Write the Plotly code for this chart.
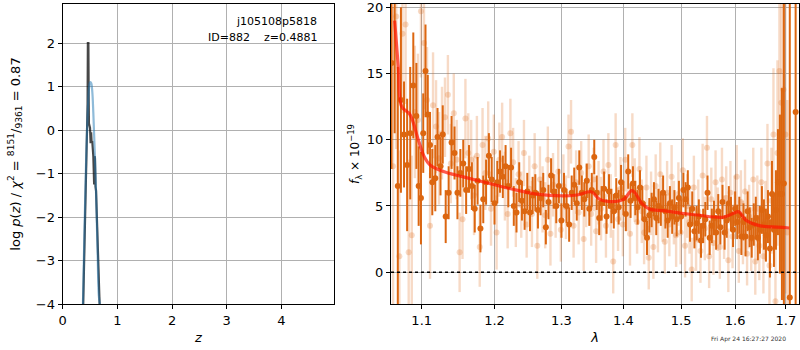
import math
import plotly.graph_objects as go

# ---------------- left panel: p(z) ----------------
pz_z = [0.375, 0.40, 0.43, 0.455, 0.46, 0.47, 0.475, 0.48, 0.50, 0.51, 0.52, 0.53, 0.54,
        0.56, 0.575, 0.585, 0.59, 0.60, 0.61, 0.625, 0.645, 0.66, 0.675]
pz_logp = [-4.0, -2.6, -0.8, 0.6, 2.0, 2.0, 0.8, 0.15, 0.05, -0.3, -0.05, -0.3, -0.25,
           -0.6, -1.25, -0.6, -0.65, -1.3, -1.4, -2.0, -2.8, -3.4, -4.0]
prior_z = [0.37, 0.40, 0.43, 0.46, 0.48, 0.50, 0.52, 0.54, 0.56, 0.58, 0.60, 0.62, 0.64, 0.66, 0.68]
prior_logp = [-4.0, -2.2, -0.6, 0.5, 0.95, 1.1, 1.08, 0.9, 0.4, -0.3, -1.0, -1.9, -2.9, -3.8, -4.0]

# ---------------- right panel: spectrum ----------------
dark_wave = [1.061, 1.065, 1.069, 1.073, 1.077, 1.081, 1.085, 1.089, 1.093, 1.096, 1.099,
             1.102, 1.105, 1.108, 1.111, 1.114, 1.118, 1.121, 1.125, 1.128, 1.132, 1.136,
             1.140, 1.144, 1.148, 1.152, 1.156, 1.160, 1.164, 1.168, 1.172, 1.176, 1.180,
             1.184, 1.188, 1.192, 1.196, 1.200, 1.204, 1.208, 1.212, 1.216, 1.220, 1.224,
             1.228, 1.232, 1.236, 1.240, 1.244, 1.248, 1.252, 1.256, 1.260, 1.264, 1.268,
             1.272, 1.276, 1.280, 1.284, 1.288, 1.292, 1.296, 1.300, 1.304, 1.308, 1.312,
             1.316, 1.320, 1.324, 1.328, 1.332, 1.336, 1.340, 1.344, 1.348, 1.352, 1.356,
             1.360, 1.364, 1.368, 1.372, 1.376, 1.380, 1.384, 1.388, 1.392, 1.396, 1.400,
             1.404, 1.408, 1.412, 1.416, 1.420, 1.424, 1.428, 1.432, 1.436, 1.440, 1.444,
             1.448, 1.452, 1.456, 1.460, 1.464, 1.468, 1.472, 1.476, 1.480, 1.484, 1.488,
             1.492, 1.496, 1.500, 1.504, 1.508, 1.512, 1.516, 1.520, 1.524, 1.528, 1.532,
             1.536, 1.540, 1.544, 1.548, 1.552, 1.556, 1.560, 1.564, 1.568, 1.572, 1.576,
             1.580, 1.584, 1.588, 1.592, 1.596, 1.600, 1.604, 1.608, 1.612, 1.616, 1.620,
             1.624, 1.628, 1.632, 1.636, 1.640, 1.644, 1.648, 1.652, 1.656, 1.660, 1.664,
             1.668, 1.672, 1.676, 1.680, 1.684, 1.688, 1.692, 1.696, 1.708, 1.720]
dark_flux = [15.8, 20.5, 6.5, 13.0, 10.4, 8.1, 10.5, 14.1, 11.8, 6.5, 5.6,
             10.5, 15.2, 11.9, 9.6, 6.8, 7.1, 10.2, 8.0, 10.4, 4.2, 6.0,
             9.8, 9.0, 6.0, 7.5, 8.2, 6.2, 7.8, 6.5, 4.8, 6.9, 3.3,
             5.5, 6.8, 8.8, 7.0, 5.2, 6.8, 7.6, 7.2, 8.0, 6.5, 7.9,
             5.0, 4.5, 6.8, 5.4, 4.6, 6.1, 4.5, 5.8, 6.0, 4.7, 5.6,
             6.2, 3.4, 5.3, 7.3, 6.1, 5.0, 6.5, 3.9, 6.2, 5.0, 3.6,
             6.0, 6.6, 5.2, 7.9, 6.0, 5.5, 6.9, 4.8, 6.2, 8.7, 6.0,
             4.1, 5.2, 6.3, 4.2, 6.1, 5.0, 4.6, 5.8, 4.9, 6.8, 5.6,
             4.4, 7.6, 5.4, 6.7, 5.6, 4.9, 6.4, 5.2, 4.0, 2.6, 4.3,
             4.7, 5.5, 4.1, 5.0, 4.8, 6.0, 4.6, 3.9, 5.2, 4.2, 4.9,
             4.0, 5.6, 4.2, 6.2, 5.5, 6.4, 3.6, 4.8, 3.1, 3.7, 4.2,
             2.4, 3.5, 4.0, 6.0, 2.6, 3.5, 4.1, 3.0, 4.6, 3.4, 5.3,
             3.0, 3.9, 5.2, 4.4, 3.2, 4.8, 3.8, 4.3, 2.7, 3.8, 2.7,
             4.6, 3.4, 2.6, 3.6, 4.1, 2.6, 3.2, 4.7, 3.6, 2.8, 4.2,
             1.8, 5.9, 3.2, 4.7, 6.8, 5.9, 5.9, 6.7, -1.9, 12.1]
dark_err = [8, 10, 9, 7, 4, 5, 5, 4, 4, 3, 3.5,
            3, 3.5, 3, 2.5, 2.5, 2.5, 2.2, 2.2, 2.2, 2, 2,
            2, 2, 2, 1.8, 1.8, 1.8, 1.8, 1.8, 1.8, 1.8, 1.8,
            1.8, 1.7, 1.7, 1.7, 1.6, 1.6, 1.6, 1.6, 1.6, 1.6, 1.5,
            1.5, 1.5, 1.5, 1.5, 1.4, 1.4, 1.4, 1.4, 1.4, 1.4, 1.3,
            1.3, 1.3, 1.3, 1.3, 1.3, 1.3, 1.3, 1.3, 1.3, 1.3, 1.3,
            1.3, 1.3, 1.3, 1.3, 1.3, 1.3, 1.3, 1.3, 1.3, 1.3, 1.3,
            1.3, 1.3, 1.3, 1.3, 1.3, 1.3, 1.3, 1.3, 1.3, 1.3, 1.3,
            1.3, 1.3, 1.3, 1.3, 1.3, 1.3, 1.3, 1.3, 1.3, 1.3, 1.3,
            1.3, 1.3, 1.3, 1.3, 1.3, 1.3, 1.3, 1.3, 1.3, 1.3, 1.3,
            1.3, 1.3, 1.3, 1.3, 1.3, 1.3, 1.3, 1.3, 1.3, 1.3, 1.3,
            1.3, 1.3, 1.3, 1.3, 1.3, 1.3, 1.3, 1.3, 1.3, 1.3, 1.3,
            1.3, 1.3, 1.3, 1.3, 1.3, 1.3, 1.3, 1.4, 1.4, 1.4, 1.5,
            1.5, 1.5, 1.5, 1.6, 1.6, 1.7, 1.8, 1.8, 1.9, 2.0, 2.0,
            2.2, 2.5, 2.8, 3.0, 4, 6, 8, 14, 25, 30]

light_wave = [1.063, 1.067, 1.071, 1.075, 1.079, 1.083, 1.087, 1.091, 1.095, 1.099, 1.103,
              1.107, 1.111, 1.115, 1.119, 1.123, 1.127, 1.131, 1.135, 1.139, 1.143, 1.147,
              1.151, 1.155, 1.159, 1.163, 1.167, 1.171, 1.175, 1.179, 1.183, 1.187, 1.191,
              1.195, 1.199, 1.203, 1.207, 1.211, 1.215, 1.219, 1.223, 1.227, 1.231, 1.235,
              1.239, 1.243, 1.247, 1.251, 1.255, 1.259, 1.263, 1.267, 1.271, 1.275, 1.279,
              1.283, 1.287, 1.291, 1.295, 1.299, 1.303, 1.307, 1.311, 1.315, 1.319, 1.323,
              1.327, 1.331, 1.335, 1.339, 1.343, 1.347, 1.351, 1.355, 1.359, 1.363, 1.367,
              1.371, 1.375, 1.379, 1.383, 1.387, 1.391, 1.395, 1.399, 1.403, 1.407, 1.411,
              1.415, 1.419, 1.423, 1.427, 1.431, 1.435, 1.439, 1.443, 1.447, 1.451, 1.455,
              1.459, 1.463, 1.467, 1.471, 1.475, 1.479, 1.483, 1.487, 1.491, 1.495, 1.499,
              1.503, 1.507, 1.511, 1.515, 1.519, 1.523, 1.527, 1.531, 1.535, 1.539, 1.543,
              1.547, 1.551, 1.555, 1.559, 1.563, 1.567, 1.571, 1.575, 1.579, 1.583, 1.587,
              1.591, 1.595, 1.599, 1.603, 1.607, 1.611, 1.615, 1.619, 1.623, 1.627, 1.631,
              1.635, 1.639, 1.643, 1.647, 1.651, 1.655, 1.659, 1.663, 1.667, 1.671, 1.675,
              1.679, 1.683, 1.687, 1.691, 1.695, 1.699, 1.703]
light_flux = [8.0, 19.3, 1.2, 18.0, 18.7, 1.5, 2.8, 12.1, 11.5, 19.7, 17.3,
              13.0, 3.5, 12.6, 11.0, 8.6, 10.5, 11.7, 13.4, 8.2, 12.0, 8.5,
              1.5, 4.0, 11.6, 9.0, 8.5, 5.8, 8.8, 1.9, 9.6, 7.5, 10.1,
              4.8, 9.1, 3.0, 8.5, 10.2, 6.5, 4.4, 10.5, 8.3, 4.5, 7.4,
              5.1, 9.0, 3.6, 6.3, 4.4, 8.0, 2.0, 7.0, 5.5, 4.3, 8.5,
              2.9, 6.6, 5.0, 7.6, 3.2, 6.5, 4.9, 9.5, 10.6, 3.5, 6.8,
              4.5, 7.5, 2.5, 5.8, 8.0, 4.4, 7.0, 3.1, 6.0, 4.8, 7.6,
              3.5, 8.1, 5.0, 0.8, 9.6, 4.0, 6.3, 3.6, 8.5, 5.5, 2.9,
              9.6, 6.2, 3.8, 7.8, 4.6, 3.0, 6.4, 1.1, 5.2, 1.9, 6.5,
              3.9, 7.4, 4.7, 2.3, 6.0, 3.6, 7.2, 4.5, 2.8, 5.9, 3.0,
              7.7, 2.0, 5.0, 3.8, 0.2, 6.4, 2.5, 4.6, 1.6, 7.3, 3.3,
              9.4, 1.2, 5.5, 2.2, 6.8, 4.0, 1.9, 7.0, 3.4, 5.6, 0.9,
              6.0, 2.7, 4.9, 7.2, 1.6, 5.3, 3.0, 6.1, 1.4, 4.2, 2.5,
              7.0, 0.8, 4.8, 2.0, 6.8, 1.2, 3.9, 8.2, 0.5, 5.4, 10.4,
              -2.2, 9.0, 15.2, 12.8, 13.8, 10.4, 3.0]
light_err = [12, 10, 8, 6, 6, 7, 6, 5, 5, 5, 5,
             4, 4, 4, 3.5, 3.5, 3.5, 3, 3, 3, 3, 3,
             3, 3, 3, 3, 3, 3, 3, 3, 2.8, 2.8, 2.8,
             2.8, 2.8, 2.8, 2.8, 2.6, 2.6, 2.6, 2.6, 2.6, 2.6, 2.5,
             2.5, 2.5, 2.5, 2.5, 2.5, 2.5, 2.5, 2.5, 2.5, 2.5, 2.5,
             2.4, 2.4, 2.4, 2.4, 2.4, 2.4, 2.4, 2.4, 2.4, 2.4, 2.4,
             2.4, 2.4, 2.4, 2.4, 2.4, 2.4, 2.4, 2.4, 2.4, 2.4, 2.4,
             2.4, 2.4, 2.4, 2.4, 2.4, 2.4, 2.4, 2.4, 2.4, 2.4, 2.4,
             2.4, 2.4, 2.4, 2.4, 2.4, 2.4, 2.4, 2.4, 2.4, 2.4, 2.4,
             2.4, 2.4, 2.4, 2.4, 2.4, 2.4, 2.4, 2.4, 2.4, 2.4, 2.4,
             2.4, 2.4, 2.4, 2.4, 2.4, 2.4, 2.4, 2.4, 2.4, 2.4, 2.4,
             2.4, 2.4, 2.4, 2.4, 2.4, 2.4, 2.4, 2.4, 2.4, 2.4, 2.4,
             2.4, 2.4, 2.4, 2.4, 2.4, 2.4, 2.4, 2.4, 2.4, 2.4, 2.4,
             2.4, 2.5, 2.5, 2.6, 2.6, 2.8, 3, 3, 3.5, 4, 5,
             6, 7, 10, 12, 14, 12, 10]

model_wave = [1.065, 1.0696, 1.074, 1.0847, 1.0955, 1.1035, 1.111, 1.129, 1.156, 1.2, 1.232,
              1.262, 1.3, 1.324, 1.345, 1.35, 1.361, 1.381, 1.4, 1.414, 1.42, 1.431, 1.445,
              1.468, 1.5, 1.529, 1.578, 1.597, 1.607, 1.62, 1.649, 1.682, 1.707]
model_flux = [19.0, 15.5, 12.5, 11.9, 10.0, 8.7, 8.1, 7.6, 7.2, 6.6, 6.2,
              5.9, 5.76, 5.83, 6.08, 6.0, 5.5, 5.33, 5.5, 6.16, 5.96, 5.2, 4.75,
              4.65, 4.45, 4.32, 4.15, 4.45, 4.57, 3.95, 3.5, 3.4, 3.34]

lam_ticks = [1.1, 1.2, 1.3, 1.4, 1.5, 1.6, 1.7]

title_obj = "j105108p5818"
title_id = "ID=882&nbsp;&nbsp;&nbsp;&nbsp;z=0.4881"
stamp = "Fri Apr 24 16:27:27 2020"

DARK = "rgb(220,102,16)"
LIGHT = "rgba(220,102,16,0.24)"
FONT = "DejaVu Sans"

fig = go.Figure()

fig.add_trace(go.Scatter(x=pz_z, y=pz_logp, mode="lines",
                         line=dict(color="rgba(0,0,0,0.72)", width=2.2),
                         xaxis="x", yaxis="y", showlegend=False))
fig.add_trace(go.Scatter(x=prior_z, y=prior_logp, mode="lines", line_shape="spline",
                         line=dict(color="rgba(31,119,180,0.5)", width=2.2),
                         xaxis="x", yaxis="y", showlegend=False))

fig.add_trace(go.Scatter(x=light_wave, y=light_flux, mode="markers",
                         marker=dict(color=LIGHT, size=6),
                         error_y=dict(type="data", array=light_err, color=LIGHT,
                                      thickness=2.4, width=0),
                         xaxis="x2", yaxis="y2", showlegend=False))
fig.add_trace(go.Scatter(x=dark_wave, y=dark_flux, mode="markers",
                         marker=dict(color=DARK, size=6),
                         error_y=dict(type="data", array=dark_err, color=DARK,
                                      thickness=2.0, width=0),
                         xaxis="x2", yaxis="y2", showlegend=False))
fig.add_trace(go.Scatter(x=model_wave, y=model_flux, mode="lines", line_shape="spline",
                         line=dict(color="rgba(255,20,0,0.7)", width=3.2),
                         xaxis="x2", yaxis="y2", showlegend=False))

fig.add_shape(type="line", xref="x2 domain", yref="y2", x0=0, x1=1, y0=0, y1=0,
              line=dict(color="black", width=1.5, dash="dot"))

axis_common = dict(showline=True, linecolor="black", linewidth=1.3, mirror=True,
                   ticks="outside", ticklen=4, tickcolor="black", automargin=False,
                   ticklabeloverflow="allow",
                   showgrid=True, gridcolor="#b0b0b0", gridwidth=1, zeroline=False,
                   tickfont=dict(family=FONT, size=13, color="black"))

fig.update_layout(
    width=800, height=350,
    margin=dict(l=0, r=0, t=0, b=0),
    paper_bgcolor="white", plot_bgcolor="white",
    font=dict(family=FONT, color="black"),
    xaxis=dict(domain=[0.0784, 0.4179], range=[0, 4.97], tickvals=[0, 1, 2, 3, 4],
               anchor="y",
               title=dict(text="<i>z</i>", font=dict(size=13), standoff=6), **axis_common),
    yaxis=dict(domain=[0.1314, 0.9886], range=[-4, 2.9], tickvals=[-4, -3, -2, -1, 0, 1, 2],
               ticktext=["\u22124", "\u22123", "\u22122", "\u22121", "0", "1", "2"],
               anchor="x",
               title=dict(text="log <i>p</i>(<i>z</i>) / <i>\u03c7</i><sup>2</sup> = "
                               "<sup>8151</sup>/<sub>9361</sub> = 0.87",
                          font=dict(size=13), standoff=12), **axis_common),
    xaxis2=dict(domain=[0.4888, 0.9988], type="log",
                range=[math.log10(1.0604), math.log10(1.727)],
                tickvals=lam_ticks, ticktext=[str(t) for t in lam_ticks], anchor="y2",
                title=dict(text="<i>\u03bb</i>", font=dict(size=13), standoff=6), **axis_common),
    yaxis2=dict(domain=[0.1314, 0.9886], range=[-2.4, 20.25], tickvals=[0, 5, 10, 15, 20],
                anchor="x2",
                title=dict(text="<i>f</i><sub>\u03bb</sub> \u00d7 10<sup>\u221219</sup>",
                           font=dict(size=12), standoff=4), **axis_common),
)

fig.add_annotation(text=title_obj, xref="paper", yref="paper", x=319/800, y=1-22/350,
                   xanchor="right", yanchor="middle", showarrow=False,
                   font=dict(family=FONT, size=11, color="black"))
fig.add_annotation(text=title_id, xref="paper", yref="paper", x=319/800, y=1-37/350,
                   xanchor="right", yanchor="middle", showarrow=False,
                   font=dict(family=FONT, size=11, color="black"))
fig.add_annotation(text=stamp, xref="paper", yref="paper", x=788/800, y=1-339/350,
                   xanchor="right", yanchor="middle", showarrow=False,
                   font=dict(family=FONT, size=6, color="#333333"))

fig.write_html("out.html", config={"displayModeBar": False},
               post_script="document.body.style.margin='0';document.body.style.overflow='hidden';")
